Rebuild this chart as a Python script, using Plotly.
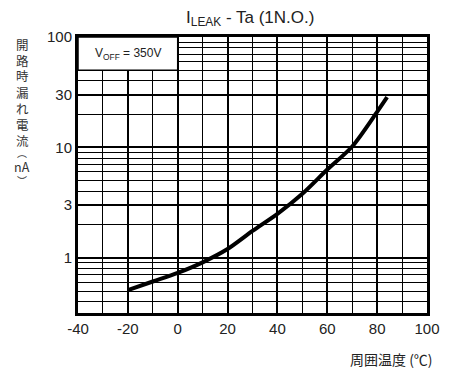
import plotly.graph_objects as go

temps = [-20, -10, 0, 10, 20, 30, 40, 50, 60, 70, 80, 84]
leak_nA = [0.51, 0.61, 0.73, 0.91, 1.2, 1.75, 2.5, 3.8, 6.3, 10.2, 21, 28.5]

x_ticks = [-40, -20, 0, 20, 40, 60, 80, 100]
x_minor = [-30, -10, 10, 30, 50, 70, 90]
y_ticks = [1, 3, 10, 30, 100]
y_minor = [0.4, 0.5, 0.6, 0.7, 0.8, 0.9, 2, 4, 5, 6, 7, 8, 9, 20, 40, 50, 60, 70, 80, 90]

y_title_chars = ["開", "路", "時", "漏", "れ", "電", "流"]

FONT = "Liberation Sans, Arial, sans-serif"
CJK = "Noto Sans CJK JP, sans-serif"

fig = go.Figure()
fig.add_trace(go.Scatter(x=temps, y=leak_nA, mode="lines",
                         line=dict(color="black", width=4, shape="spline", smoothing=0.8),
                         showlegend=False))

fig.update_layout(
    width=455, height=372,
    margin=dict(l=78, r=28, t=37, b=59),
    paper_bgcolor="white", plot_bgcolor="white",
    font=dict(family=FONT, color="#222", size=15),
    title=dict(text="I<sub>LEAK</sub> - Ta (1N.O.)", x=0.55, xanchor="center",
               y=0.955, yanchor="middle", font=dict(size=17, family=FONT, color="#222")),
)
fig.update_xaxes(range=[-40, 100], tickvals=x_ticks, ticktext=[str(v) for v in x_ticks],
                 showgrid=True, gridcolor="black", gridwidth=2,
                 minor=dict(tickvals=x_minor, showgrid=True, gridcolor="black", gridwidth=1),
                 showline=True, linecolor="black", linewidth=3, mirror=True,
                 ticks="", zeroline=False, tickfont=dict(size=15))
fig.update_yaxes(type="log", range=[-0.5, 2], tickvals=y_ticks,
                 ticktext=[str(v) for v in y_ticks],
                 showgrid=True, gridcolor="black", gridwidth=1.5,
                 minor=dict(tickvals=y_minor, showgrid=True, gridcolor="black", gridwidth=1),
                 showline=True, linecolor="black", linewidth=3, mirror=True,
                 ticks="", zeroline=False, tickfont=dict(size=15))

# legend-like box
fig.add_shape(type="rect", xref="x", yref="y", x0=-40, x1=0, y0=50, y1=100,
              fillcolor="white", line=dict(color="black", width=1.5), layer="above")
fig.add_annotation(x=-20, y=1.85, xref="x", yref="y", yanchor="middle",
                   text="V<sub>OFF</sub> = 350V", showarrow=False,
                   font=dict(size=12, family=FONT, color="#222"))

# y-axis title (vertical Japanese), one character per line
YT_X = -0.16
def ypaper(ypix):
    return 1 - (ypix - 37) / 276

for i, ch in enumerate(y_title_chars):
    fig.add_annotation(xref="paper", yref="paper", x=YT_X, y=ypaper(44 + 16 * i),
                       xanchor="center", yanchor="middle", text=ch, showarrow=False,
                       font=dict(size=12.5, family=CJK, color="#333"))
for txt, ypix, fs in [("︵", 152, 10), ("nA", 166, 12.5), ("︶", 180, 10)]:
    fig.add_annotation(xref="paper", yref="paper", x=YT_X, y=ypaper(ypix),
                       xanchor="center", yanchor="middle", text=txt, showarrow=False,
                       font=dict(size=fs, family=CJK, color="#333"))
# x-axis title
fig.add_annotation(xref="paper", yref="paper", x=1.023, y=-0.123, xanchor="right", yanchor="top",
                   text="周囲温度 (℃)", showarrow=False,
                   font=dict(size=14, family=CJK, color="#222"))

fig.write_html("out.html")
